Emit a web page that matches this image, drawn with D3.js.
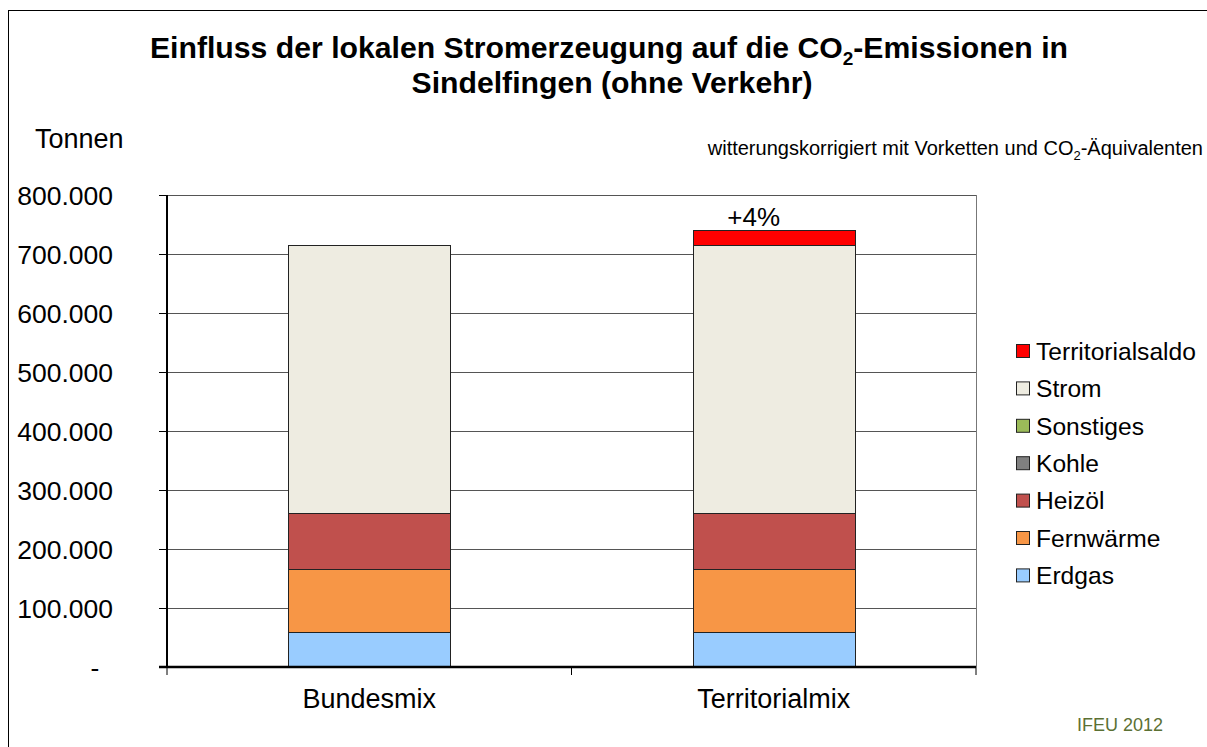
<html>
<head>
<script src="https://cdnjs.cloudflare.com/ajax/libs/d3/7.8.5/d3.min.js"></script>
<style>
  body { margin: 0; background: #fff; }
  text { font-family: "Liberation Sans", Arial, sans-serif; }
</style>
</head>
<body>
<svg width="1207" height="747"></svg>
<script>
// data (tonnes CO2)
let categories = ["Bundesmix", "Territorialmix"];
let seriesNames = ["Erdgas", "Fernwärme", "Heizöl", "Kohle", "Sonstiges", "Strom", "Territorialsaldo"];
let erdgas = [60000, 60000];
let fernwaerme = [106500, 106500];
let heizoel = [95000, 95000];
let kohle = [0, 0];
let sonstiges = [0, 0];
let strom = [454000, 454000];
let territorialsaldo = [0, 26000];
let yTicks = [0, 100000, 200000, 300000, 400000, 500000, 600000, 700000, 800000];
let colors = ["#99ccff", "#f79646", "#c0504d", "#808080", "#9bbb59", "#eeece1", "#ff0000"];

let values = [erdgas, fernwaerme, heizoel, kohle, sonstiges, strom, territorialsaldo];
let rows = categories.map((c, i) => {
    let r = { cat: c };
    seriesNames.forEach((s, j) => r[s] = values[j][i]);
    return r;
});

var svg = d3.select("svg");

// outer frame
svg.append("rect").attr("x", 8.5).attr("y", 10.5).attr("width", 1210).attr("height", 760)
    .attr("fill", "none").attr("stroke", "#000").attr("stroke-width", 1);

var pL = 167, pR = 976, pT = 195, pB = 667;

var x = d3.scaleBand().domain(categories).range([pL, pR]).paddingInner(0).paddingOuter(0);
var y = d3.scaleLinear().domain([0, 800000]).range([pB, pT]);

// gridlines
svg.append("g").selectAll("line").data(yTicks.slice(1)).enter().append("line")
    .attr("x1", pL).attr("x2", pR)
    .attr("y1", d => Math.round(y(d)) + 0.5).attr("y2", d => Math.round(y(d)) + 0.5)
    .attr("stroke", "#555").attr("stroke-width", 1);

// plot border right
svg.append("line").attr("x1", pR + 0.5).attr("x2", pR + 0.5).attr("y1", pT).attr("y2", pB)
    .attr("stroke", "#777");

// stacked bars
var stack = d3.stack().keys(seriesNames)(rows);
var bw = x.bandwidth() * 0.4;
svg.append("g").selectAll("g").data(stack).enter().append("g")
    .attr("fill", (d, i) => colors[i])
    .selectAll("rect").data(d => d.filter(p => p[1] - p[0] > 0)).enter().append("rect")
    .attr("x", d => Math.round(x(d.data.cat) + (x.bandwidth() - bw) / 2) + 0.5)
    .attr("width", Math.round(bw))
    .attr("y", d => Math.round(y(d[1])) + 0.5)
    .attr("height", d => Math.round(y(d[0])) - Math.round(y(d[1])))
    .attr("stroke", "#222").attr("stroke-width", 1);

// y axis
var yAxis = d3.axisLeft(y).tickValues(yTicks).tickSize(8)
    .tickFormat(d => d === 0 ? "-" : d3.format(",")(d).replace(/,/g, "."));
var ya = svg.append("g").attr("transform", "translate(" + pL + ",0)").call(yAxis);
ya.select(".domain").attr("stroke", "#000").attr("stroke-width", 2).attr("d", "M0," + pT + "V" + pB);
ya.selectAll(".tick line").attr("stroke", "#000");
ya.selectAll(".tick text")
    .attr("x", d => d === 0 ? -72 : -54).attr("dy", "0.36em")
    .attr("text-anchor", d => d === 0 ? "middle" : "end")
    .style("font-size", "26.5px").style("font-family", "Liberation Sans, Arial, sans-serif").attr("fill", "#000");

// x axis
var xa = svg.append("g").attr("transform", "translate(0," + pB + ")");
xa.append("line").attr("x1", pL - 8).attr("x2", pR).attr("y1", 0).attr("y2", 0)
    .attr("stroke", "#000").attr("stroke-width", 2.5);
xa.selectAll("line.t").data([pL, (pL + pR) / 2, pR]).enter().append("line")
    .attr("x1", d => d).attr("x2", d => d).attr("y1", 0).attr("y2", 8).attr("stroke", "#000");
xa.selectAll("text").data(categories).enter().append("text")
    .attr("x", d => x(d) + x.bandwidth() / 2).attr("y", 41)
    .attr("text-anchor", "middle").style("font-size", "27px").text(d => d);

// +4% label
svg.append("text").attr("x", x("Territorialmix") + x.bandwidth() / 2 - 20).attr("y", 226)
    .attr("text-anchor", "middle").style("font-size", "26px").text("+4%");

// title
var t = svg.append("text").attr("text-anchor", "middle").style("font-size", "30.2px").style("font-weight", "bold");
var t1 = t.append("tspan").attr("x", 609).attr("y", 58);
t1.append("tspan").text("Einfluss der lokalen Stromerzeugung auf die CO");
t1.append("tspan").attr("dy", 7).style("font-size", "19px").text("2");
t1.append("tspan").attr("dy", -7).text("-Emissionen in");
t.append("tspan").attr("x", 612).attr("y", 93).text("Sindelfingen (ohne Verkehr)");

// Tonnen
svg.append("text").attr("x", 35).attr("y", 148).style("font-size", "27px").text("Tonnen");

// subtitle
var st = svg.append("text").attr("x", 1203).attr("y", 155).attr("text-anchor", "end")
    .style("font-size", "20px");
st.append("tspan").text("witterungskorrigiert mit Vorketten und CO");
st.append("tspan").attr("dy", 5).style("font-size", "13px").text("2");
st.append("tspan").attr("dy", -5).text("-Äquivalenten");

// legend
var legendOrder = seriesNames.slice().reverse();
var lg = svg.append("g").selectAll("g").data(legendOrder).enter().append("g")
    .attr("transform", (d, i) => "translate(1016," + (351 + i * 37.4) + ")");
lg.append("rect").attr("x", 0.5).attr("y", -6.5).attr("width", 13).attr("height", 13)
    .attr("fill", d => colors[seriesNames.indexOf(d)]).attr("stroke", "#222");
lg.append("text").attr("x", 20).attr("dy", "0.36em").style("font-size", "24.6px").text(d => d);

// source
svg.append("text").attr("x", 1077).attr("y", 731)
    .style("font-size", "18px").attr("fill", "#5b7033").text("IFEU 2012");
</script>
</body>
</html>
